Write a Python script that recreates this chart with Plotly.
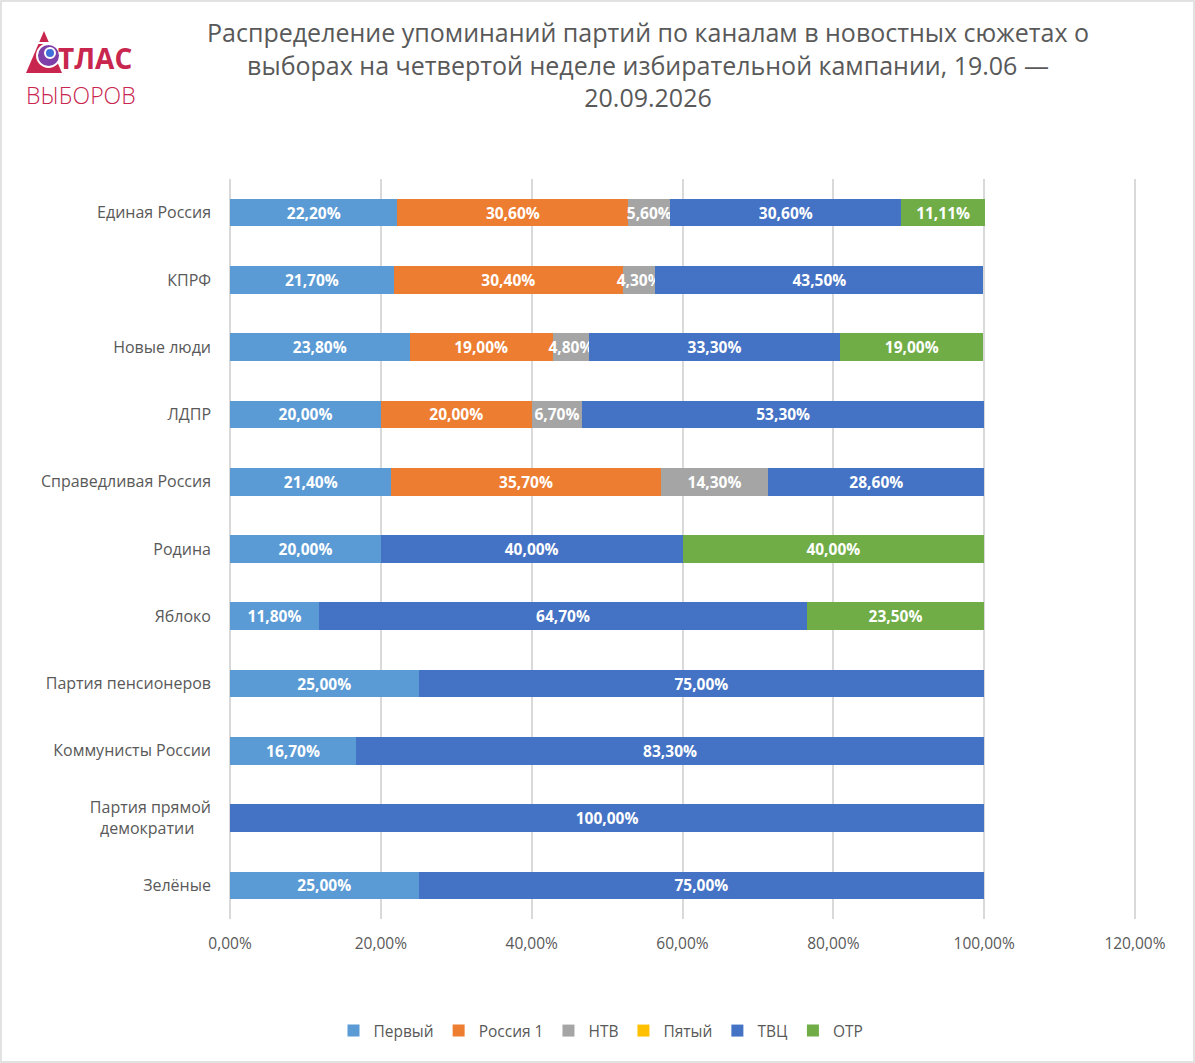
import plotly.graph_objects as go

categories = ["Единая Россия", "КПРФ", "Новые люди", "ЛДПР", "Справедливая Россия",
              "Родина", "Яблоко", "Партия пенсионеров", "Коммунисты России",
              "Партия прямой демократии", "Зелёные"]
category_labels = ["Единая Россия", "КПРФ", "Новые люди", "ЛДПР", "Справедливая Россия",
                   "Родина", "Яблоко", "Партия пенсионеров", "Коммунисты России",
                   "Партия прямой<br>демократии\u00a0\u00a0\u00a0\u00a0", "Зелёные"]

channels = ["Первый", "Россия 1", "НТВ", "Пятый", "ТВЦ", "ОТР"]

# shares, percent (None = not mentioned)
pervyi   = [22.2, 21.7, 23.8, 20.0, 21.4, 20.0, 11.8, 25.0, 16.7, None, 25.0]
rossiya1 = [30.6, 30.4, 19.0, 20.0, 35.7, None, None, None, None, None, None]
ntv      = [5.6, 4.3, 4.8, 6.7, 14.3, None, None, None, None, None, None]
pyatyi   = [None] * 11
tvc      = [30.6, 43.5, 33.3, 53.3, 28.6, 40.0, 64.7, 75.0, 83.3, 100.0, 75.0]
otr      = [11.11, None, 19.0, None, None, 40.0, 23.5, None, None, None, None]

series = [pervyi, rossiya1, ntv, pyatyi, tvc, otr]
colors = ["#5B9BD5", "#ED7D31", "#A5A5A5", "#FFC000", "#4472C4", "#70AD47"]

tick_vals = [0, 0.2, 0.4, 0.6, 0.8, 1.0, 1.2]

W, H = 1195, 1063
L, R, T, B = 228, 1137, 179, 919


def px(xp):
    return (xp - L) / (R - L)


def py(yp):
    return (B - yp) / (B - T)


fig = go.Figure()
for name, vals, col in zip(channels, series, colors):
    xs = [None if v is None else v / 100 for v in vals]
    fig.add_trace(go.Bar(
        y=categories, x=xs, name=name, orientation="h",
        marker=dict(color=col, line=dict(width=0)),
        texttemplate="%{x:.2%}", textposition="inside",
        insidetextanchor="middle", textangle=0, constraintext="none",
        textfont=dict(color="white", size=15.5, family="Open Sans", weight="bold"),
        hoverinfo="x+name",
    ))

fig.update_layout(
    width=W, height=H,
    barmode="stack", bargap=0.59,
    separators=", ",
    paper_bgcolor="white", plot_bgcolor="white",
    margin=dict(l=L, r=W - R, t=T, b=H - B, autoexpand=False),
    font=dict(family="Open Sans", color="#595959"),
    xaxis=dict(range=[-0.0027, 1.2027], tickvals=tick_vals, tickformat=".2%",
               showgrid=True, gridcolor="#D9D9D9", gridwidth=1.6,
               zeroline=False, showline=False, ticks="", ticklabelstandoff=13,
               tickfont=dict(size=15.5, family="Open Sans", color="#595959")),
    yaxis=dict(autorange="reversed", showgrid=False, ticks="", showline=False,
               tickmode="array", tickvals=categories, ticktext=category_labels,
               ticklabelstandoff=16,
               tickfont=dict(size=16, family="Open Sans", color="#595959")),
    legend=dict(orientation="h", x=px(601), xanchor="center", y=py(1031), yanchor="middle",
                font=dict(size=15.5, color="#595959"), traceorder="normal",
                itemwidth=30),
    showlegend=True,
)

# Title
fig.add_annotation(
    xref="paper", yref="paper", x=px(648), y=py(13), xanchor="center", yanchor="top",
    text="Распределение упоминаний партий по каналам в новостных сюжетах о<br>"
         "выборах на четвертой неделе избирательной кампании, 19.06 —<br>20.09.2026",
    showarrow=False, align="center",
    font=dict(size=25, color="#595959", family="Open Sans"),
)

# Outer border
fig.add_shape(type="rect", xref="paper", yref="paper",
              x0=px(1), x1=px(W - 1), y0=py(H - 1), y1=py(1),
              line=dict(color="#D9D9D9", width=1.5), fillcolor="rgba(0,0,0,0)", layer="below")

# Logo
red = "#C8264E"
fig.add_shape(type="path", xref="paper", yref="paper",
              path=f"M {px(26)} {py(73)} L {px(44)} {py(31)} L {px(62)} {py(73)} Z",
              fillcolor=red, line=dict(width=0))
fig.add_shape(type="path", xref="paper", yref="paper",
              path=f"M {px(30)} {py(44)} L {px(58)} {py(44)} L {px(58)} {py(42)} L {px(30)} {py(42)} Z",
              fillcolor="white", line=dict(width=0))
fig.add_shape(type="circle", xref="paper", yref="paper",
              x0=px(37), x1=px(60), y0=py(67), y1=py(44),
              fillcolor="#7E3FA8", line=dict(color="white", width=2))
fig.add_shape(type="circle", xref="paper", yref="paper",
              x0=px(45), x1=px(55), y0=py(58), y1=py(48),
              fillcolor="#3F6FD8", line=dict(color="white", width=2))
fig.add_annotation(xref="paper", yref="paper", x=px(57), y=py(78), xanchor="left", yanchor="bottom",
                   text="<b>ТЛАС</b>", showarrow=False, borderpad=0,
                   font=dict(size=28, color=red, family="Open Sans"))
fig.add_annotation(xref="paper", yref="paper", x=px(25), y=py(78), xanchor="left", yanchor="top",
                   text="ВЫБОРОВ", showarrow=False, borderpad=0,
                   font=dict(size=23, color=red, family="Open Sans", weight=300))

fig.write_html("out.html")
